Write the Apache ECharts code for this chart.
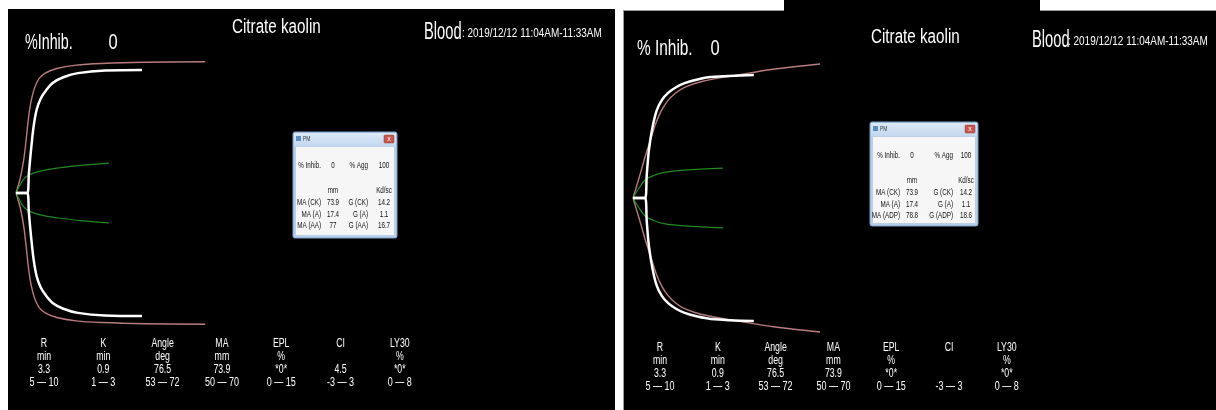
<!DOCTYPE html>
<html>
<head>
<meta charset="utf-8">
<script src="https://cdn.jsdelivr.net/npm/echarts@6/dist/echarts.min.js"></script>
<style>
  html, body { margin: 0; padding: 0; background: #fff; }
  #main { width: 1216px; height: 410px; }
</style>
</head>
<body>
<div id="main"></div>
<script>
// TEG tracings: [time (min), amplitude (mm)], upper half only - the trace is symmetric
var leftPink = [[0,0],[1.0,9],[1.8,20],[2.4,33],[2.9,45],[3.5,55],[4.3,63],[5.3,68.5],[6.8,72],[9.5,74.8],[14,76.8],[20,77.8],[30,78.5],[44,78.8]];
var leftWhite = [[0,0],[2.6,0],[3.0,12],[3.5,26],[4.1,40],[4.8,50],[5.7,56.5],[6.8,61],[8.6,66.2],[11,69.5],[14.4,72],[20.7,73.6],[29.3,73.9]];
var leftGreen = [[0,0],[0.8,4],[1.6,7.8],[2.8,10.5],[4.4,12.2],[7,13.9],[9.8,15],[15,16.6],[21.6,18]];

var rightPink = [[0,0],[1.4,12],[2.8,24.6],[4.2,36],[5.4,45.5],[6.6,52.5],[8.1,58.5],[10,63.2],[12,66.5],[16,70],[24.4,73.9],[33,77.5],[43.5,80.5]];
var rightWhite = [[0,0],[2.8,0],[3.2,14],[3.7,28.8],[4.5,42],[5.5,52.5],[6.7,58.8],[8.1,63],[10,66.5],[12,69],[15,71.2],[18.1,72.6],[28.1,73.9]];
var rightGreen = [[0,0],[1.4,6],[2.8,10.8],[4.8,13.5],[7.2,15.4],[12,16.8],[20.9,18]];

// parameter table under the tracings
var paramNames = ['R', 'K', 'Angle', 'MA', 'EPL', 'CI', 'LY30'];
var paramUnits = ['min', 'min', 'deg', 'mm', '%', '', '%'];
var leftValues = ['3.3', '0.9', '76.5', '73.9', '*0*', '4.5', '*0*'];
var rightValues = ['3.3', '0.9', '76.5', '73.9', '*0*', '', '*0*'];
var paramRanges = ['5 \u2014 10', '1 \u2014 3', '53 \u2014 72', '50 \u2014 70', '0 \u2014 15', '-3 \u2014 3', '0 \u2014 8'];

// PM popup rows
var leftPM = [
  ['% Inhib.', '0', '% Agg', '100'],
  ['', 'mm', '', 'Kd/sc'],
  ['MA (CK)', '73.9', 'G (CK)', '14.2'],
  ['MA (A)', '17.4', 'G (A)', '1.1'],
  ['MA (AA)', '77', 'G (AA)', '16.7']
];
var rightPM = [
  ['% Inhib.', '0', '% Agg', '100'],
  ['', 'mm', '', 'Kd/sc'],
  ['MA (CK)', '73.9', 'G (CK)', '14.2'],
  ['MA (A)', '17.4', 'G (A)', '1.1'],
  ['MA (ADP)', '78.8', 'G (ADP)', '18.6']
];

var title = 'Citrate kaolin';
var inhibLabel = ['%Inhib.', '% Inhib.'];
var inhibValue = '0';
var bloodDate = ': 2019/12/12 11:04AM-11:33AM';

var FONT = '"Liberation Sans", "DejaVu Sans", sans-serif';
var PINK = '#b87c7c', GREEN = '#1f8a1f';

var chart = echarts.init(document.getElementById('main'));

function mirror(arr) {
  return arr.map(function (p) { return [p[0], -p[1]]; });
}

// screenshot text is squeezed horizontally, hence the scaleX
function txt(x, y, s, size, align, sx, color) {
  return {
    type: 'text', x: x, y: y, z: 10, scaleX: sx || 1,
    style: {
      text: s, fill: color || '#fff',
      font: size + 'px ' + FONT,
      textAlign: align || 'left', textVerticalAlign: 'middle',
      align: align || 'left', verticalAlign: 'middle'
    }
  };
}

function pmBox(x0, y0, w, h, rows, c) {
  var els = [];
  els.push({ type: 'rect', z: 8, shape: { x: x0, y: y0, width: w, height: h, r: 2 }, style: { fill: '#b9d0ea', stroke: '#7d9fc9', lineWidth: 1 } });
  els.push({ type: 'rect', z: 9, shape: { x: x0 + 1, y: y0 + 1, width: w - 2, height: 13 },
    style: { fill: new echarts.graphic.LinearGradient(0, 0, 0, 1, [{ offset: 0, color: '#dce9f7' }, { offset: 1, color: '#c3d8ef' }]) } });
  els.push({ type: 'rect', z: 9, shape: { x: x0 + 3, y: y0 + 15, width: w - 6, height: h - 18 }, style: { fill: '#f6f6f6' } });
  els.push({ type: 'rect', z: 9, shape: { x: x0 + 3, y: y0 + 4, width: 5, height: 5 }, style: { fill: '#5a8fc0' } });
  els.push(txt(x0 + 10, y0 + 7, 'PM', 7, 'left', 0.7, '#333'));
  els.push({ type: 'rect', z: 9, shape: { x: x0 + w - 13, y: y0 + 3, width: 10, height: 8, r: 1 }, style: { fill: '#c9564e', stroke: '#9a3a34', lineWidth: 0.5 } });
  els.push(txt(x0 + w - 8, y0 + 7, 'x', 7, 'center', 1, '#fff'));
  var rowY = [34, 59, 71, 83, 94];
  rows.forEach(function (r, i) {
    var y = y0 + rowY[i];
    els.push(txt(x0 + c[0], y, r[0], 8.5, 'right', 0.74, '#111'));
    els.push(txt(x0 + c[1], y, r[1], 8.5, 'center', 0.74, '#111'));
    els.push(txt(x0 + c[2], y, r[2], 8.5, 'right', 0.74, '#111'));
    els.push(txt(x0 + c[3], y, r[3], 8.5, 'center', 0.74, '#111'));
  });
  return els;
}

function table(x0, dx, ys, values) {
  var els = [];
  paramNames.forEach(function (n, i) {
    var x = x0 + dx * i;
    els.push(txt(x, ys[0], n, 12.5, 'center', 0.7));
    els.push(txt(x, ys[1], paramUnits[i], 12.5, 'center', 0.7));
    els.push(txt(x, ys[2], values[i], 12.5, 'center', 0.7));
    els.push(txt(x, ys[3], paramRanges[i], 12.5, 'center', 0.72));
  });
  return els;
}

var graphics = [
  // panels
  { type: 'rect', z: 0, shape: { x: 8, y: 9, width: 607, height: 401 }, style: { fill: '#000' } },
  { type: 'rect', z: 0, shape: { x: 623, y: 10, width: 593, height: 400 }, style: { fill: '#000' } },
  { type: 'line', z: 1, shape: { x1: 623.5, y1: 10, x2: 623.5, y2: 410 }, style: { stroke: '#9a9a9a', lineWidth: 1 } },
  { type: 'line', z: 1, shape: { x1: 623, y1: 10.5, x2: 784, y2: 10.5 }, style: { stroke: '#9a9a9a', lineWidth: 1 } },
  { type: 'line', z: 1, shape: { x1: 1040, y1: 10.5, x2: 1216, y2: 10.5 }, style: { stroke: '#9a9a9a', lineWidth: 1 } },
  { type: 'rect', z: 0, shape: { x: 784, y: 0, width: 256, height: 11 }, style: { fill: '#000' } },
  // left header
  txt(25, 43, inhibLabel[0], 22, 'left', 0.65),
  txt(113, 43, inhibValue, 22, 'center', 0.75),
  txt(232, 27, title, 20, 'left', 0.76),
  txt(424, 33, 'Blood', 23, 'left', 0.64),
  txt(462, 34, bloodDate, 12, 'left', 0.83),
  // right header
  txt(637, 49, inhibLabel[1], 22, 'left', 0.7),
  txt(715, 49, inhibValue, 22, 'center', 0.75),
  txt(871, 37, title, 20, 'left', 0.76),
  txt(1032, 41, 'Blood', 23, 'left', 0.64),
  txt(1068, 42, bloodDate, 12, 'left', 0.83)
];
graphics = graphics
  .concat(pmBox(293, 132, 104, 106, leftPM, [28, 40, 75, 91]))
  .concat(pmBox(870, 122, 108, 104, rightPM, [30, 42, 83, 96]))
  .concat(table(44, 59.3, [344, 357, 370, 383], leftValues))
  .concat(table(660, 57.8, [348, 361, 374, 387], rightValues));

function lineSeries(data, idx, color, width) {
  return {
    type: 'line', xAxisIndex: idx, yAxisIndex: idx, data: data,
    symbol: 'none', smooth: 0.35,
    lineStyle: { color: color, width: width }, z: 3
  };
}

var option = {
  backgroundColor: '#ffffff',
  animation: false,
  grid: [
    { left: 16, top: 43.15, width: 258, height: 299.7 },
    { left: 633, top: 48.15, width: 258, height: 299.7 }
  ],
  xAxis: [
    { type: 'value', gridIndex: 0, min: 0, max: 60, show: false },
    { type: 'value', gridIndex: 1, min: 0, max: 60, show: false }
  ],
  yAxis: [
    { type: 'value', gridIndex: 0, min: -90, max: 90, show: false },
    { type: 'value', gridIndex: 1, min: -90, max: 90, show: false }
  ],
  series: [
    lineSeries(leftPink, 0, PINK, 1.4),
    lineSeries(mirror(leftPink), 0, PINK, 1.4),
    lineSeries(leftGreen, 0, GREEN, 1.2),
    lineSeries(mirror(leftGreen), 0, GREEN, 1.2),
    lineSeries(leftWhite, 0, '#ffffff', 2.5),
    lineSeries(mirror(leftWhite), 0, '#ffffff', 2.5),
    lineSeries(rightPink, 1, PINK, 1.4),
    lineSeries(mirror(rightPink), 1, PINK, 1.4),
    lineSeries(rightGreen, 1, GREEN, 1.2),
    lineSeries(mirror(rightGreen), 1, GREEN, 1.2),
    lineSeries(rightWhite, 1, '#ffffff', 2.5),
    lineSeries(mirror(rightWhite), 1, '#ffffff', 2.5)
  ],
  graphic: { elements: graphics }
};
chart.setOption(option);
</script>
</body>
</html>
